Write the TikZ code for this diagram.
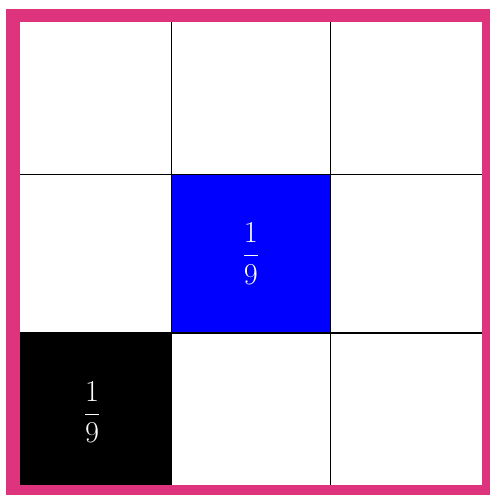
\documentclass[tikz,border=0pt]{standalone}
\definecolor{framepink}{RGB}{222,52,126}
\begin{document}
\begin{tikzpicture}[x=0.02cm,y=-0.02cm,
  cell/.style={minimum width=3.175cm, minimum height=3.175cm, inner sep=0pt, outer sep=0pt, draw=black, line width=0.6pt, fill=white},
  fraccell/.style={cell, text=white, font=\fontsize{18.5}{22}\selectfont}]
\useasboundingbox (0,0) rectangle (490,495);
\fill[white] (0,0) rectangle (490,495);
\node[cell] (c00) at (92.125,94.875) {};
\node[cell] (c01) at (250.875,94.875) {};
\node[cell] (c02) at (409.625,94.875) {};
\node[cell] (c10) at (92.125,253.625) {};
\node[fraccell, fill=blue] (c11) at (250.875,253.625) {$\displaystyle\frac{1}{9}$};
\node[cell] (c12) at (409.625,253.625) {};
\node[fraccell, fill=black] (c20) at (92.125,412.375) {$\displaystyle\frac{1}{9}$};
\node[cell] (c21) at (250.875,412.375) {};
\node[cell] (c22) at (409.625,412.375) {};
\draw[framepink, line width=0.27cm] (c00.north west) rectangle (c22.south east);
\end{tikzpicture}
\end{document}
